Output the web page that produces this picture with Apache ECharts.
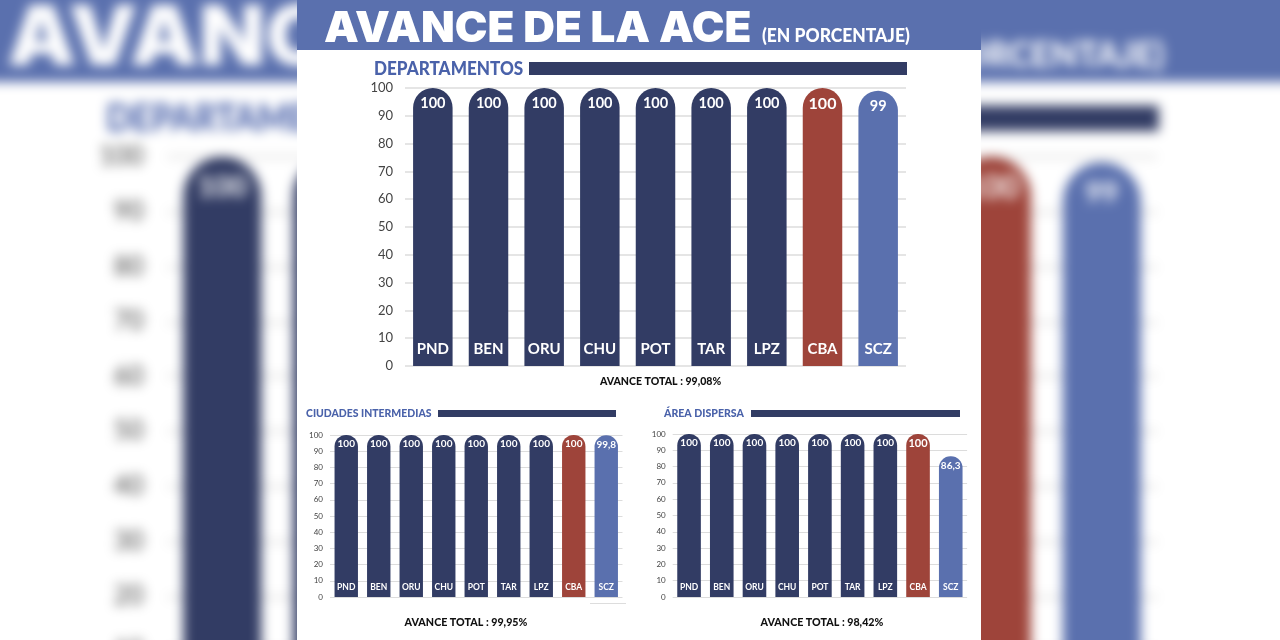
<!DOCTYPE html>
<html>
<head>
<meta charset="utf-8">
<title>Avance de la ACE</title>
<script src="https://cdn.jsdelivr.net/npm/echarts@6/dist/echarts.min.js"></script>
<style>
    html, body { margin: 0; padding: 0; background: #fff; overflow: hidden; }
    #stage { position: relative; width: 1280px; height: 640px; overflow: hidden; }
    .poster { position: absolute; top: 0; width: 684px; height: 640px; }
    /* fondo: el mismo afiche ampliado y desenfocado */
    #back { left: 0; transform-origin: 0 0; transform: translate(-46px, -17px) scale(1.975); filter: blur(3px); }
    #front { left: 297px; }
</style>
</head>
<body>
<div id="stage">
    <div id="back" class="poster"></div>
    <div id="front" class="poster"></div>
</div>
<script>
// datos
const categories = ['PND', 'BEN', 'ORU', 'CHU', 'POT', 'TAR', 'LPZ', 'CBA', 'SCZ'];
const departamentos = [100, 100, 100, 100, 100, 100, 100, 100, 99];
const ciudades = [100, 100, 100, 100, 100, 100, 100, 100, 99.8];
const dispersa = [100, 100, 100, 100, 100, 100, 100, 100, 86.3];

// colores
const navy = '#323c64';
const red = '#9e443a';
const blue = '#5a70ae';
const font = 'Lato, "Open Sans", sans-serif';

// los paneles, en coordenadas del afiche (x de la página - 297)
const panels = [
    { values: departamentos, left: 108, top: 88, width: 501, height: 278, tick: 13, name: 15, val: 14.5, cba: 16, radius: 20, bar: 39.5, margin: 9, labelDist: 8, tickMargin: 12 },
    { values: ciudades, left: 33, top: 435, width: 292.5, height: 162, tick: 8, name: 8.5, val: 10, cba: 10, radius: 11.5, bar: 23.4, margin: 5, labelDist: 4, tickMargin: 7 },
    { values: dispersa, left: 375.7, top: 434, width: 294.4, height: 163, tick: 8, name: 8.5, val: 10, cba: 11, radius: 11.5, bar: 23.6, margin: 5, labelDist: 4, tickMargin: 7 }
];

function barColor(i) {
    if (i === 7) return red;
    if (i === 8) return blue;
    return navy;
}

// encabezados y barras decorativas
function headerText(text, x, y, size, sx) {
    return { type: 'text', x: x, y: y, scaleX: sx, style: { text: text, fill: '#4a62aa', font: `900 ${size}px ${font}`, verticalAlign: 'middle' } };
}
function headerRule(x, y, w, h) {
    return { type: 'rect', shape: { x: x, y: y, width: w, height: h }, style: { fill: navy } };
}
function totalText(text, x, y, size, sx) {
    return { type: 'text', x: x, y: y, scaleX: sx, style: { text: text, fill: '#111', font: `900 ${size}px ${font}`, align: 'center', verticalAlign: 'middle' } };
}

const graphics = [
    { type: 'rect', shape: { x: 0, y: 0, width: 684, height: 50 }, style: { fill: blue } },
    { type: 'text', x: 27, y: 29, scaleX: 1.045, style: { text: 'AVANCE DE LA ACE', fill: '#fff', font: `900 42px Inter, ${font}`, verticalAlign: 'middle' } },
    { type: 'text', x: 465, y: 36.5, scaleX: 0.97, style: { text: '(EN PORCENTAJE)', fill: '#fff', font: `900 18px ${font}`, verticalAlign: 'middle' } },
    headerText('DEPARTAMENTOS', 77, 69, 19, 0.9),
    headerRule(232, 62, 378, 13),
    totalText('AVANCE TOTAL : 99,08%', 363.5, 381.5, 11, 0.96),
    headerText('CIUDADES INTERMEDIAS', 9, 413.5, 12, 0.87),
    headerRule(141, 410, 178, 7),
    totalText('AVANCE TOTAL : 99,95%', 169, 622, 11.5, 0.93),
    headerText('ÁREA DISPERSA', 367, 413.5, 12, 0.88),
    headerRule(454, 410, 209, 7),
    totalText('AVANCE TOTAL : 98,42%', 525, 622, 11.5, 0.93),
    // línea suelta bajo el panel de ciudades
    { type: 'rect', shape: { x: 293, y: 603, width: 36, height: 1 }, style: { fill: '#dddddd' } }
];

// armar la opción a partir de los paneles
function buildOption() {
    const grid = [], xAxis = [], yAxis = [], series = [];
    panels.forEach((p, idx) => {
        grid.push({ left: p.left, top: p.top, width: p.width, height: p.height });
        xAxis.push({
            type: 'category',
            gridIndex: idx,
            data: categories,
            z: 10,
            axisLine: { show: false },
            axisTick: { show: false },
            axisLabel: { inside: true, margin: p.margin, color: '#fff', fontFamily: font, fontWeight: 'bold', fontSize: p.name, interval: 0 }
        });
        yAxis.push({
            type: 'value',
            gridIndex: idx,
            min: 0,
            max: 100,
            interval: 10,
            axisLine: { show: false },
            axisTick: { show: false },
            axisLabel: { margin: p.tickMargin, color: '#444', fontFamily: font, fontSize: p.tick },
            splitLine: { lineStyle: { color: '#dcdcdc', width: idx === 0 ? 1.5 : 1 } }
        });
        series.push({
            type: 'bar',
            xAxisIndex: idx,
            yAxisIndex: idx,
            barWidth: p.bar,
            silent: true,
            data: p.values.map((v, i) => ({
                value: v,
                itemStyle: { color: barColor(i), borderRadius: [p.radius, p.radius, 0, 0] },
                label: i === 7 ? { fontSize: p.cba } : undefined
            })),
            label: {
                show: true,
                position: 'insideTop',
                distance: p.labelDist,
                color: '#fff',
                fontFamily: font,
                fontWeight: 'bold',
                fontSize: p.val,
                formatter: params => String(params.value).replace('.', ',')
            }
        });
    });
    return { animation: false, backgroundColor: '#fff', grid, xAxis, yAxis, series, graphic: graphics };
}

// el mismo afiche dos veces: fondo y frente
echarts.init(document.getElementById('back'), null, { devicePixelRatio: 2 }).setOption(buildOption());
echarts.init(document.getElementById('front')).setOption(buildOption());
</script>
</body>
</html>
